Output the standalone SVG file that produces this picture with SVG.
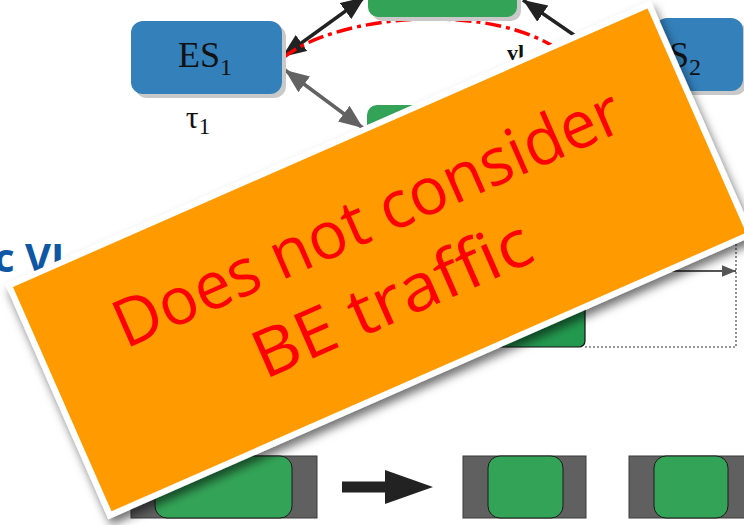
<svg xmlns="http://www.w3.org/2000/svg" width="744" height="525" viewBox="0 0 744 525">
<defs>
<style>
.es{fill:#3380bb;}
.sh{fill:#c9c9c9;}
.grn{fill:#33a457;}
.serif{font-family:"Liberation Serif","Times New Roman",serif;fill:#111;}
.blk{stroke:#222;stroke-width:3.5;fill:none;}
.gry{stroke:#626262;stroke-width:3.5;fill:none;}
.gbox{fill:#606060;stroke:#3a3a3a;stroke-width:1;}
.gin{fill:#33a457;stroke:#1a1a1a;stroke-width:1;}
.note{font-family:"Open Sans","Noto Sans",sans-serif;fill:#ff0000;font-size:66px;}
</style>
<marker id="hb" markerUnits="userSpaceOnUse" markerWidth="24" markerHeight="20" refX="22" refY="9" orient="auto-start-reverse" viewBox="0 0 22 18"><path d="M0,0 L22,9 L0,18 z" fill="#222"/></marker>
<marker id="hg" markerUnits="userSpaceOnUse" markerWidth="24" markerHeight="20" refX="22" refY="9" orient="auto-start-reverse" viewBox="0 0 22 18"><path d="M0,0 L22,9 L0,18 z" fill="#626262"/></marker>
<marker id="hs" markerUnits="userSpaceOnUse" markerWidth="14" markerHeight="12" refX="12" refY="5" orient="auto" viewBox="0 0 12 10"><path d="M0,0 L12,5 L0,10 z" fill="#555"/></marker>
<filter id="ds" x="-10%" y="-10%" width="125%" height="130%"><feDropShadow dx="3" dy="6" stdDeviation="5" flood-color="#000" flood-opacity="0.55"/></filter>
</defs>
<rect width="744" height="525" fill="#fff"/>

<g id="connectors">
<path class="blk" d="M282,57 L365,-3" marker-start="url(#hb)" marker-end="url(#hb)"/>
<path class="blk" d="M590,46 L523,0" marker-end="url(#hb)"/>
<path class="gry" d="M285,70 L363,128" marker-start="url(#hg)" marker-end="url(#hg)"/>
<path d="M283,58 C335,15 490,0 562,52" fill="none" stroke="#ff0000" stroke-width="3.5" stroke-dasharray="16 5 4 5"/>
<path d="M560,271 L736,271" stroke="#555" stroke-width="2" fill="none" marker-end="url(#hs)"/>
<path d="M736,200 L736,347 L585,347" stroke="#777" stroke-width="1.6" stroke-dasharray="2 2" fill="none"/>
<path d="M342,487 L388,487" stroke="#222" stroke-width="11"/>
<path d="M385,470 L433,487 L385,504 z" fill="#222"/>
</g>

<g id="es1">
<rect class="sh" x="135" y="25" width="151" height="73" rx="12"/>
<rect class="es" x="131" y="21" width="151" height="73" rx="12"/>
<text class="serif" x="205" y="67" text-anchor="middle" font-size="36">ES<tspan font-size="24" dy="8">1</tspan></text>
<text class="serif" x="198" y="128" text-anchor="middle" font-size="32">τ<tspan font-size="23" dy="6">1</tspan></text>
</g>

<g id="sw-top">
<rect class="sh" x="372" y="-16" width="149" height="37" rx="10"/>
<rect class="grn" x="368" y="-20" width="149" height="37" rx="10"/>
</g>

<g id="sw-bottom">
<rect class="sh" x="371" y="109" width="149" height="70" rx="10"/>
<rect class="grn" x="367" y="105" width="149" height="70" rx="10"/>
</g>

<g id="es2">
<rect class="sh" x="659" y="22" width="88" height="73" rx="12"/>
<rect class="es" x="655" y="18" width="88" height="73" rx="12"/>
<text class="serif" x="674" y="67" text-anchor="middle" font-size="36">ES<tspan font-size="24" dy="8">2</tspan></text>
</g>

<text x="507" y="60" font-family="Liberation Serif,serif" font-size="22" font-weight="bold" fill="#111">vl</text>

<text x="-6" y="272" font-family="Open Sans,Noto Sans,sans-serif" font-weight="bold" font-size="40" fill="#0d57a5">c VL</text>

<g id="frame-green">
<rect x="430" y="290" width="155" height="57" rx="6" fill="#23994f" stroke="#111" stroke-width="1.2"/>
</g>

<g id="row">
<rect class="gbox" x="131" y="456" width="186" height="62"/>
<rect class="gin" x="155" y="456" width="137" height="62" rx="12"/>
<rect class="gbox" x="463" y="456" width="123" height="62"/>
<rect class="gin" x="488" y="456" width="75" height="62" rx="12"/>
<rect class="gbox" x="629" y="456" width="123" height="62"/>
<rect class="gin" x="654" y="456" width="74" height="62" rx="12"/>
</g>

<g id="note" filter="url(#ds)">
<g transform="translate(13,287) rotate(-23.7)">
<rect x="-6" y="-6" width="705" height="257" fill="#fff"/>
<rect width="693" height="245" fill="#ff9a00"/>
<text class="note" x="352" y="102" text-anchor="middle" textLength="548" lengthAdjust="spacingAndGlyphs">Does not consider</text>
<text class="note" x="342" y="186" text-anchor="middle" textLength="298" lengthAdjust="spacingAndGlyphs">BE traffic</text>
</g>
</g>
</svg>
